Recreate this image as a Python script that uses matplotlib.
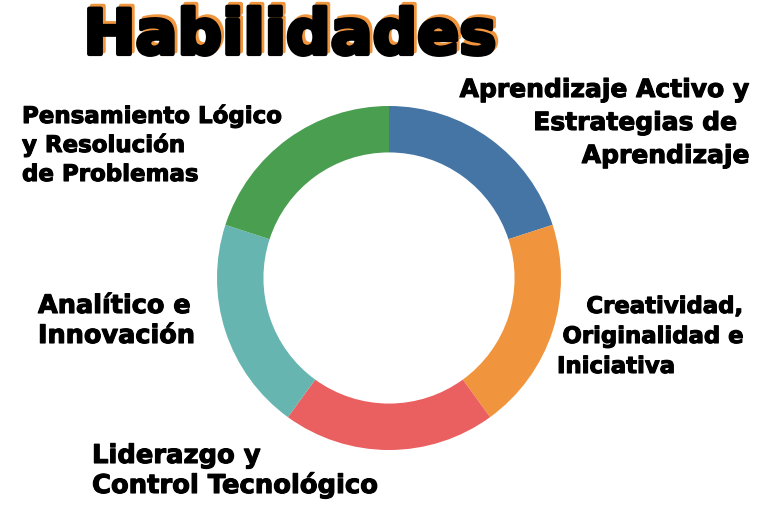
import matplotlib.pyplot as plt
import matplotlib.patheffects as pe

# five skills, equal share of the ring (clockwise from the top)
categories = ['Aprendizaje Activo y Estrategias de Aprendizaje',
              'Creatividad, Originalidad e Iniciativa',
              'Liderazgo y Control Tecnológico',
              'Analítico e Innovación',
              'Pensamiento Lógico y Resolución de Problemas']
shares = [1, 1, 1, 1, 1]
colors = ['#4475a5', '#f0953d', '#ea5f5f', '#67b5b0', '#4a9e50']

# label lines as they are broken in the picture
label_lines = [
    ['Aprendizaje Activo y', 'Estrategias de ', 'Aprendizaje'],
    ['Creatividad,', 'Originalidad e', 'Iniciativa'],
    ['Liderazgo y', 'Control Tecnológico'],
    ['Analítico e', 'Innovación'],
    ['Pensamiento Lógico', 'y Resolución', 'de Problemas'],
]
title = 'Habilidades'

W, H = 768, 523
fig = plt.figure(figsize=(W / 100, H / 100), dpi=100)
fig.patch.set_facecolor('white')


def fx(x):
    return x / W


def fy(y):
    return 1 - y / H


# donut
cx, cy, r = 389, 278, 172
ax = fig.add_axes([fx(cx - r), fy(cy + r), 2 * r / W, 2 * r / H])
ax.pie(shares, colors=colors, startangle=90, counterclock=False,
       radius=1, wedgeprops=dict(width=0.27, edgecolor='none'))
ax.set_xlim(-1, 1)
ax.set_ylim(-1, 1)
ax.set_aspect('equal')
ax.axis('off')

heavy = [pe.Stroke(linewidth=0.8, foreground='black'), pe.Normal()]
font = 'DejaVu Sans'

# x and alignment of each line
spots = [
    [(750, 'right'), (746, 'right'), (750, 'right')],
    [(743, 'right'), (743, 'right'), (557, 'left')],
    [(92, 'left'), (92, 'left')],
    [(38, 'left'), (38, 'left')],
    [(22, 'left'), (22, 'left'), (22, 'left')],
]
first_y = [97, 313, 463, 313, 123]
steps = [33, 30, 30, 30, 29]
sizes = [18, 16.4, 18.6, 18.4, 16.5]

for lines, pos, y0, step, size in zip(label_lines, spots, first_y, steps, sizes):
    for i, (line, (x, ha)) in enumerate(zip(lines, pos)):
        fig.text(fx(x), fy(y0 + i * step), line, ha=ha, va='baseline',
                 fontsize=size, fontweight='bold', family=font,
                 color='black', path_effects=heavy)

# title with orange offset shadow
fig.text(fx(290), fy(54), title, ha='center', va='baseline',
         fontsize=44.8, fontweight='bold', family=font, color='black',
         path_effects=[pe.Stroke(linewidth=3, foreground='#f0953d', offset=(2, 2)),
                       pe.Stroke(linewidth=3, foreground='black'),
                       pe.Normal()])

fig.savefig('out.png', dpi=100, facecolor='white')
